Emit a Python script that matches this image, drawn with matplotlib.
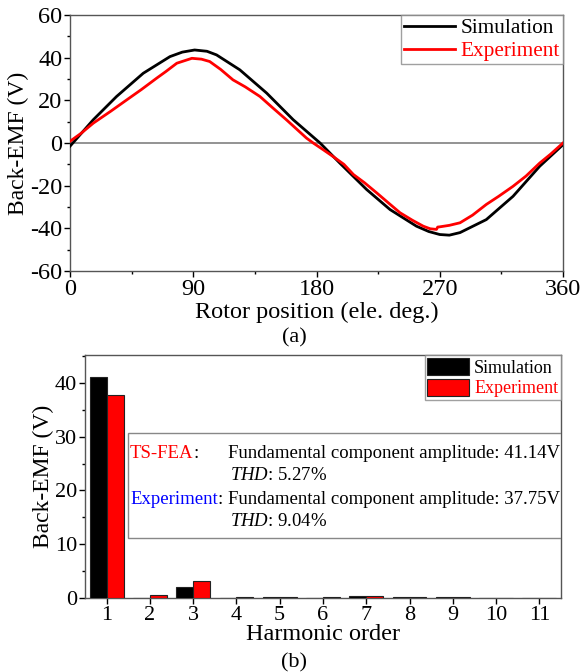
import matplotlib
matplotlib.use("Agg")
import matplotlib.pyplot as plt
from matplotlib.patches import Rectangle
from matplotlib.ticker import MultipleLocator
import numpy as np

plt.rcParams['font.family'] = ['Liberation Serif', 'DejaVu Serif']
plt.rcParams['axes.unicode_minus'] = False
plt.rcParams['mathtext.fontset'] = 'custom'
plt.rcParams['mathtext.rm'] = 'Liberation Serif'
plt.rcParams['mathtext.it'] = 'Liberation Serif:italic'

# ---- data: panel (a) ----
sim_pos = [0, 17, 34, 53.5, 73, 82, 91, 100, 107, 124, 143.6, 163, 182.6, 197,
           216.6, 233.7, 253, 262, 270, 277, 284.8, 304, 323.5, 343, 360]
sim_emf = [-1.5, 10.9, 21.8, 32.7, 40.5, 42.6, 43.6, 43.0, 41.3, 34.3, 23.4, 10.9, 0.0, -9.4,
           -21.8, -31.2, -39.0, -41.5, -42.9, -43.2, -42.0, -35.9, -25.0, -10.9, -0.8]
exp_pos = [0, 8, 17, 30, 41.4, 52, 63.3, 70, 78, 89, 96, 102, 110, 119, 128, 138.7, 148,
           158, 172.7, 177.6, 185, 192, 200, 207, 215, 224, 232, 241, 250, 258, 263, 267.6,
           268.5, 270, 277, 284.8, 294, 304, 313, 323.5, 333, 343, 351, 360]
exp_emf = [0.8, 4.5, 9.3, 15.0, 20.2, 25.0, 30.4, 33.5, 37.4, 39.7, 39.3, 38.2, 34.5, 29.6, 26.3,
           21.8, 16.5, 10.9, 2.3, 0.0, -3.2, -6.3, -10.0, -14.8, -18.6, -23.4, -27.8, -32.7,
           -36.2, -39.0, -40.2, -40.5, -39.4, -39.3, -38.6, -37.4, -33.8, -28.8, -25.0, -20.3,
           -15.5, -9.4, -5.2, 0.0]

# ---- data: panel (b) ----
harm_order = [1, 2, 3, 4, 5, 6, 7, 8, 9, 10, 11]
sim_harm = [41.14, 0.05, 2.1, 0.05, 0.15, 0.05, 0.35, 0.1, 0.1, 0.05, 0.05]
exp_harm = [37.75, 0.5, 3.25, 0.15, 0.25, 0.2, 0.45, 0.1, 0.25, 0.05, 0.05]

W, H = 582, 672
fig = plt.figure(figsize=(W / 100, H / 100), dpi=100)

def fx(px):
    return px / W

def fy(py):
    return 1 - py / H

# ---- panel (a) ----
ax1 = fig.add_axes([fx(70), fy(271), fx(563) - fx(70), fy(15) - fy(271)])
ax1.axhline(0, color='#808080', lw=1.2, zorder=1)
ax1.plot(sim_pos, sim_emf, color='black', lw=2.0, label='Simulation', zorder=3)
ax1.plot(exp_pos, exp_emf, color='#ff0000', lw=2.0, label='Experiment', zorder=4)
ax1.set_xlim(0, 360)
ax1.set_ylim(-60, 60)
ax1.xaxis.set_major_locator(MultipleLocator(90))
ax1.xaxis.set_minor_locator(MultipleLocator(45))
ax1.yaxis.set_major_locator(MultipleLocator(20))
ax1.yaxis.set_minor_locator(MultipleLocator(10))
ax1.tick_params(which='major', direction='out', length=4, width=1, labelsize=17.5, pad=1.5)
ax1.tick_params(which='minor', direction='out', length=2.5, width=1)
for s in ax1.spines.values():
    s.set_color('#555555')
    s.set_linewidth(1.0)
ax1.set_ylabel('Back-EMF (V)', fontsize=17, labelpad=1)
leg1 = ax1.legend(loc='upper right', fontsize=15.3, frameon=True, fancybox=False,
                  borderaxespad=0, handlelength=2.4, handletextpad=0.25,
                  borderpad=0.15, labelspacing=0.15)
leg1.get_frame().set_edgecolor('#888888')
leg1.get_frame().set_linewidth(1.0)
leg1.get_texts()[1].set_color('#ff0000')
fig.text(fx(316.5), fy(312), 'Rotor position (ele. deg.)', fontsize=17.5, ha='center', va='center')
fig.text(fx(294), fy(338), '(a)', fontsize=16, ha='center', va='center')

# ---- panel (b) ----
ax2 = fig.add_axes([fx(85), fy(598), fx(561) - fx(85), fy(355) - fy(598)])
x = np.array(harm_order)
bw = 0.39
ax2.bar(x - bw / 2, sim_harm, width=bw, color='black', edgecolor='#222222', lw=0.8,
        label='Simulation', zorder=3)
ax2.bar(x + bw / 2, exp_harm, width=bw, color='#ff0000', edgecolor='#222222', lw=0.8,
        label='Experiment', zorder=3)
ax2.set_xlim(0.5, 11.5)
ax2.set_ylim(0, 45.2)
ax2.set_xticks(harm_order)
ax2.yaxis.set_major_locator(MultipleLocator(10))
ax2.yaxis.set_minor_locator(MultipleLocator(5))
ax2.tick_params(which='major', direction='out', length=4, width=1, pad=1.5)
ax2.tick_params(axis='x', labelsize=16)
ax2.tick_params(axis='y', labelsize=16)
ax2.tick_params(which='minor', direction='out', length=2.5, width=1)
for s in ax2.spines.values():
    s.set_color('#555555')
    s.set_linewidth(1.0)
ax2.set_ylabel('Back-EMF (V)', fontsize=17, labelpad=1)
leg2 = ax2.legend(loc='upper right', fontsize=13, frameon=True, fancybox=False,
                  borderaxespad=0, handlelength=2.3, handleheight=1.1,
                  handletextpad=0.3, borderpad=0.15, labelspacing=0.12)
leg2.get_frame().set_edgecolor('#888888')
leg2.get_frame().set_linewidth(1.0)
leg2.get_texts()[1].set_color('#ff0000')

# annotation box
x0 = (128 - 85) / (561 - 85)
y0 = (598 - 538) / (598 - 355)
y1 = (598 - 433) / (598 - 355)
box = Rectangle((x0, y0), 1 - x0, y1 - y0, transform=ax2.transAxes, facecolor='white',
                edgecolor='#888888', lw=1.0, zorder=5)
ax2.add_patch(box)
fs = 13.5
t1 = fig.text(fx(130), fy(453), 'TS-FEA', color='#ff0000', fontsize=fs, va='center')
t2 = fig.text(fx(130), fy(499), 'Experiment', color='#0000ff', fontsize=fs, va='center')
fig.canvas.draw()
bb1 = t1.get_window_extent()
bb2 = t2.get_window_extent()
fig.text(bb1.x1 / W, fy(453), ':', fontsize=fs, va='center')
fig.text(bb2.x1 / W, fy(499), ':', fontsize=fs, va='center')
fig.text(fx(228), fy(453), 'Fundamental component amplitude: 41.14V', fontsize=fs, va='center')
fig.text(fx(230), fy(476), r'$\mathit{THD}$: 5.27%', fontsize=fs, va='center')
fig.text(fx(228), fy(499), 'Fundamental component amplitude: 37.75V', fontsize=fs, va='center')
fig.text(fx(230), fy(522), r'$\mathit{THD}$: 9.04%', fontsize=fs, va='center')

fig.text(fx(322.5), fy(635), 'Harmonic order', fontsize=17.5, ha='center', va='center')
fig.text(fx(294), fy(663), '(b)', fontsize=16, ha='center', va='center')

fig.savefig('out.png', dpi=100)
